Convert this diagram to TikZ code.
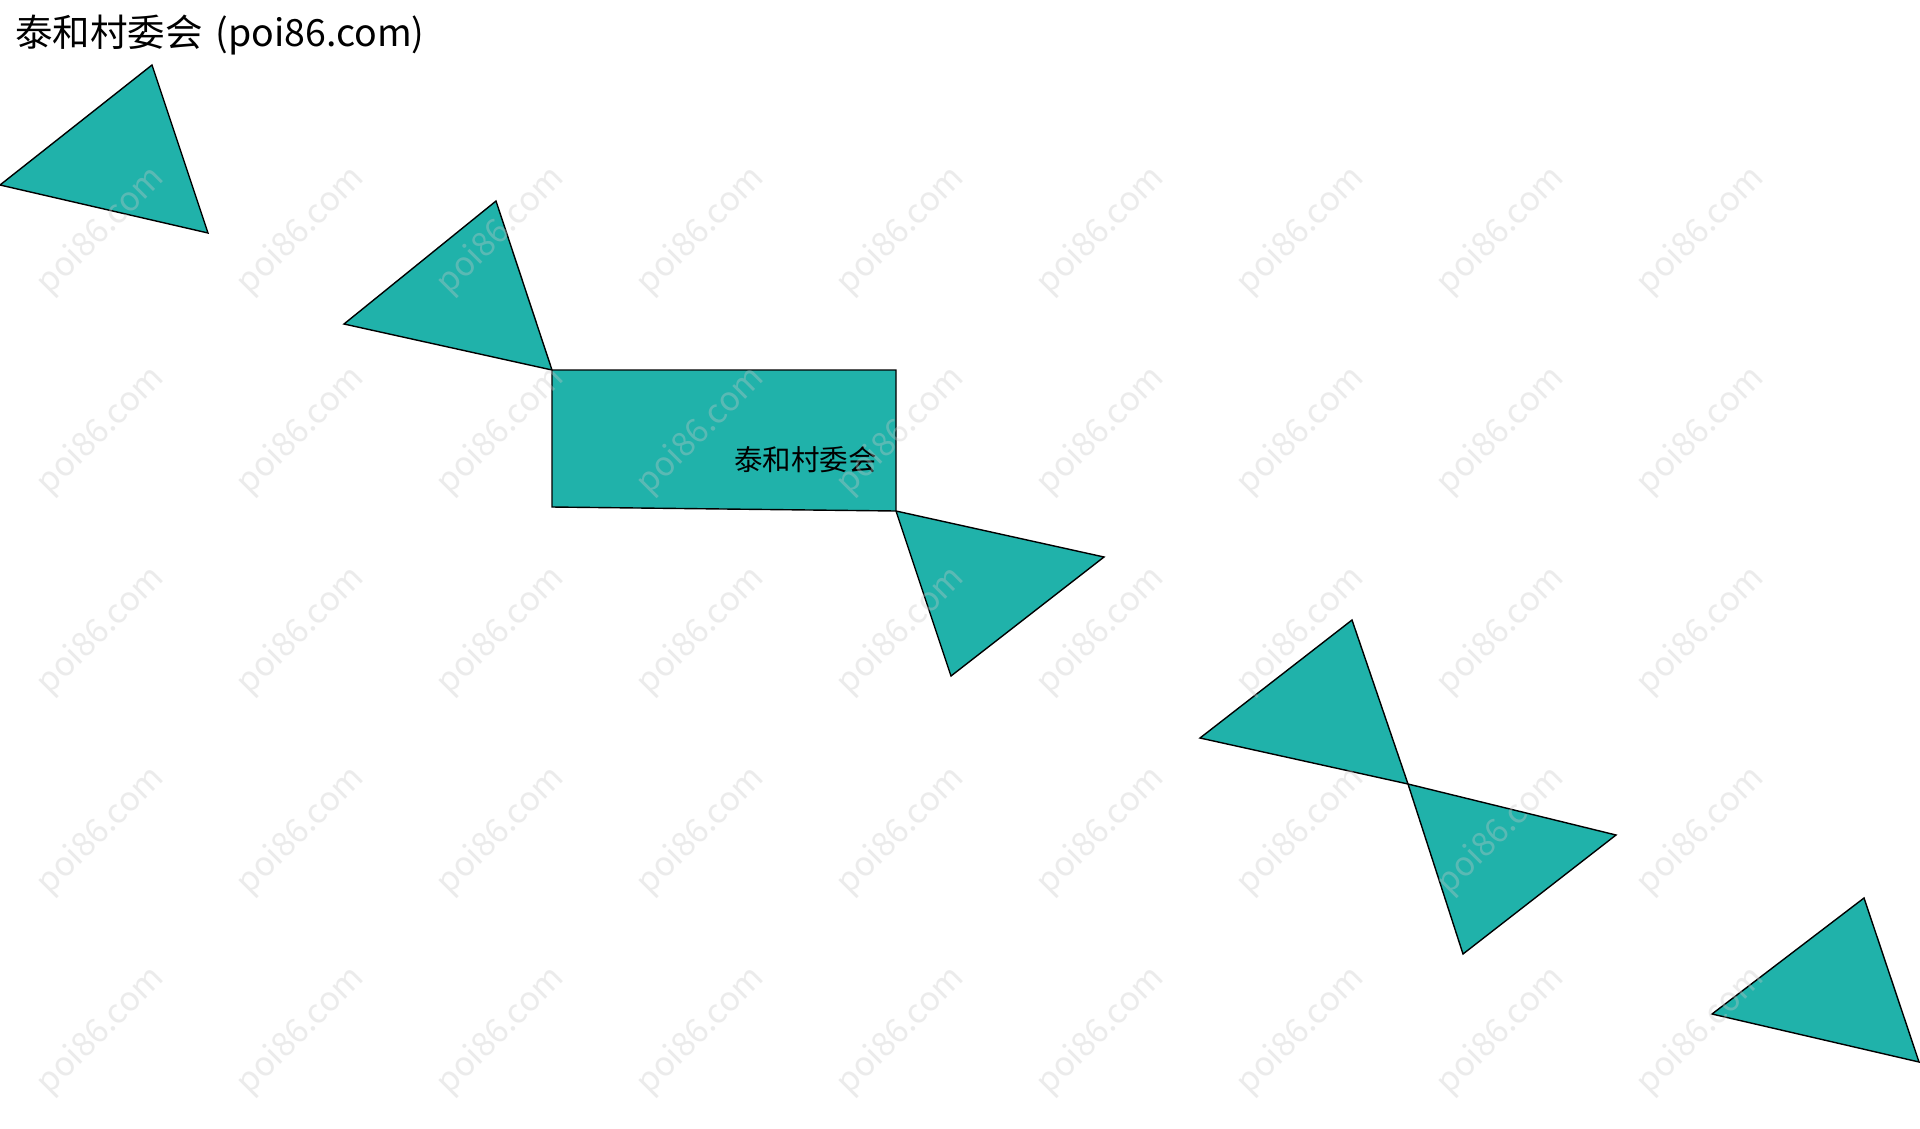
\documentclass[tikz,border=0pt]{standalone}
\usepackage{fontspec}
\setmainfont{Noto Sans CJK SC}
\definecolor{teal1}{RGB}{32,178,170}
\definecolor{wm}{RGB}{200,200,200}
\begin{document}
\begin{tikzpicture}[x=1pt,y=-1pt,
  tealshape/.style={fill=teal1,draw=black,line width=1.4pt,line join=miter},
  wmark/.style={text=wm,opacity=0.35,rotate=45,font=\fontsize{33.5}{34}\selectfont,inner sep=0pt},
  titlestyle/.style={font=\fontsize{37.5}{40}\selectfont,inner sep=0pt,anchor=west},
  lab/.style={font=\fontsize{28.5}{30}\selectfont,inner sep=0pt,anchor=east}]
\useasboundingbox (0,0) rectangle (1920,1128);
\fill[white] (0,0) rectangle (1920,1128);
% triangles
\draw[tealshape] (152,65) -- (0,185) -- (208,233) -- cycle;
\draw[tealshape] (496,201) -- (344,324) -- (552,370) -- cycle;
\draw[tealshape] (896,511) -- (1104,557) -- (951,676) -- cycle;
\draw[tealshape] (1352,620) -- (1200,738) -- (1408,784) -- cycle;
\draw[tealshape] (1408,784) -- (1616,835) -- (1463,954) -- cycle;
\draw[tealshape] (1864,898) -- (1712,1014) -- (1919,1062) -- cycle;
% rectangle
\draw[tealshape] (552,370) -- (896,370) -- (896,511) -- (552,507) -- cycle;
\node[lab] (rlabel) at (877,460) {泰和村委会};
% title
\node[titlestyle] (ttl) at (15,35) {泰和村委会\hspace{0.12em} (poi86.com)};
% watermarks
\foreach \i in {0,...,8}{
  \foreach \j in {0,...,4}{
    \node[wmark] (w\i\j) at ({101+200*\i},{231+200*\j}) {poi86.com};
  }
}
\end{tikzpicture}
\end{document}
